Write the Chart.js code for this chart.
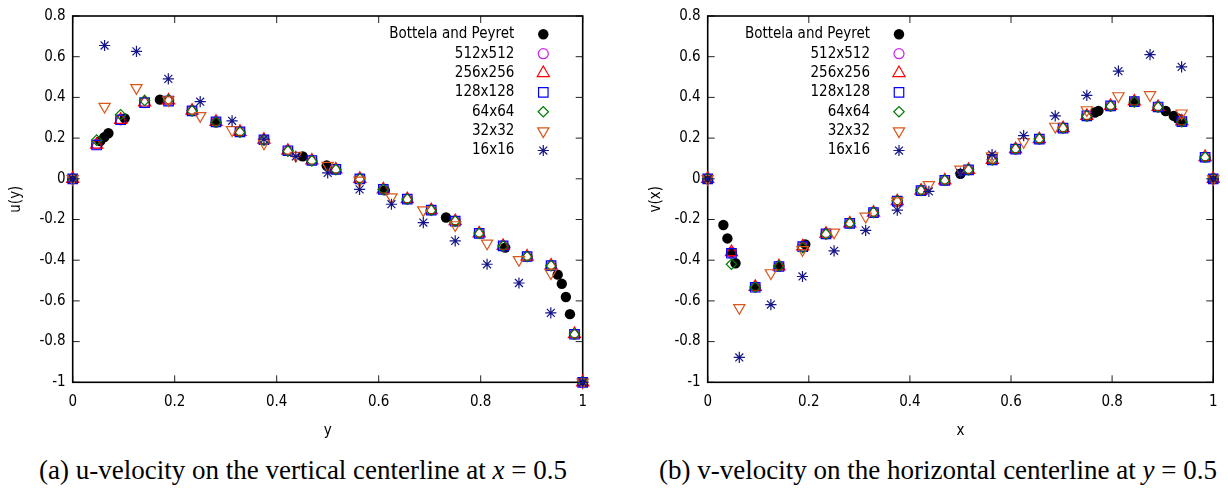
<!DOCTYPE html>
<html>
<head>
<meta charset="utf-8">
<script src="https://cdn.jsdelivr.net/npm/chart.js@4.4.1/dist/chart.umd.min.js"></script>
<style>
  html, body { margin: 0; background: #fff; }
  #page { position: relative; width: 1228px; height: 489px; overflow: hidden; background: #fff; }
  .panel { position: absolute; top: 0; }
  .caption {
    position: absolute; top: 457px; white-space: nowrap; transform: translateX(-50%);
    font-family: "Liberation Serif", serif; font-size: 27px; line-height: 27px; color: #000;
  }
</style>
</head>
<body>
<div id="page">
  <canvas id="uChart" class="panel" style="left:0" width="600" height="440"></canvas>
  <canvas id="vChart" class="panel" style="left:614px" width="614" height="440"></canvas>
  <div class="caption" style="left:303px">(a) u-velocity on the vertical centerline at <i>x</i> = 0.5</div>
  <div class="caption" style="left:938px">(b) v-velocity on the horizontal centerline at <i>y</i> = 0.5</div>
</div>
<script>
// ---- data -------------------------------------------------------------------

const seriesNames = ["Bottela and Peyret", "512x512", "256x256", "128x128", "64x64", "32x32", "16x16"];

const axisTicks = [0, 0.2, 0.4, 0.6, 0.8, 1];
const axisTickLabels = ["0", "0.2", "0.4", "0.6", "0.8", "1"];
const velTicks = [-1, -0.8, -0.6, -0.4, -0.2, 0, 0.2, 0.4, 0.6, 0.8];
const velTickLabels = ["-1", "-0.8", "-0.6", "-0.4", "-0.2", "0", "0.2", "0.4", "0.6", "0.8"];

// sample positions shared by the fine grids and by the two coarse grids
const finePos = [0, 0.047, 0.094, 0.141, 0.188, 0.234, 0.281, 0.328, 0.375, 0.422, 0.469, 0.516,
  0.563, 0.609, 0.656, 0.703, 0.75, 0.797, 0.844, 0.891, 0.938, 0.984, 1];
const coarsePos = [0, 0.0625, 0.125, 0.1875, 0.25, 0.3125, 0.375, 0.4375, 0.5, 0.5625, 0.625,
  0.6875, 0.75, 0.8125, 0.875, 0.9375, 1];

// u(y) on x = 0.5
const refY = [0, 0.054, 0.062, 0.07, 0.102, 0.171, 0.281, 0.451, 0.498, 0.612, 0.732, 0.848,
  0.951, 0.959, 0.967, 0.975, 1];
const refU = [0, 0.185, 0.205, 0.224, 0.297, 0.389, 0.278, 0.11, 0.065, -0.057, -0.19, -0.338,
  -0.471, -0.516, -0.581, -0.665, -1];
const u512 = [0, 0.17, 0.29, 0.374, 0.384, 0.334, 0.279, 0.231, 0.191, 0.138, 0.09, 0.046, 0.0,
  -0.052, -0.1, -0.154, -0.208, -0.268, -0.33, -0.382, -0.427, -0.764, -1];
const u256 = [0, 0.168, 0.29, 0.375, 0.385, 0.335, 0.28, 0.231, 0.192, 0.138, 0.09, 0.046, 0.0,
  -0.052, -0.1, -0.154, -0.208, -0.268, -0.33, -0.382, -0.426, -0.763, -1];
const u128 = [0, 0.166, 0.29, 0.374, 0.382, 0.334, 0.28, 0.231, 0.192, 0.138, 0.09, 0.046, 0.0,
  -0.052, -0.1, -0.154, -0.208, -0.268, -0.33, -0.382, -0.427, -0.764, -1];
const u64 = [0, 0.19, 0.315, 0.385, 0.387, 0.334, 0.278, 0.229, 0.19, 0.136, 0.088, 0.045, 0.0,
  -0.052, -0.1, -0.154, -0.208, -0.268, -0.33, -0.382, -0.427, -0.764, -1];
const u32 = [0, 0.355, 0.447, 0.387, 0.309, 0.24, 0.175, 0.114, 0.065, -0.008, -0.09, -0.154,
  -0.227, -0.317, -0.398, -0.463, -1];
const u16 = [0, 0.655, 0.626, 0.491, 0.379, 0.285, 0.195, 0.11, 0.029, -0.052, -0.125, -0.215,
  -0.305, -0.42, -0.512, -0.659, -1];

// v(x) on y = 0.5
const refX = [0, 0.031, 0.039, 0.047, 0.055, 0.094, 0.141, 0.193, 0.5, 0.766, 0.773, 0.844,
  0.906, 0.922, 0.93, 0.938, 1];
const refV = [0, -0.227, -0.293, -0.366, -0.415, -0.53, -0.428, -0.322, 0.025, 0.326, 0.334,
  0.378, 0.333, 0.309, 0.296, 0.281, 0];
const v512 = [0, -0.362, -0.532, -0.43, -0.333, -0.271, -0.219, -0.166, -0.11, -0.058, -0.008,
  0.044, 0.093, 0.146, 0.195, 0.249, 0.309, 0.358, 0.379, 0.353, 0.281, 0.106, 0];
const v256 = [0, -0.36, -0.531, -0.43, -0.332, -0.27, -0.219, -0.166, -0.11, -0.058, -0.008,
  0.044, 0.093, 0.146, 0.195, 0.249, 0.309, 0.358, 0.38, 0.353, 0.282, 0.107, 0];
const v128 = [0, -0.366, -0.533, -0.431, -0.333, -0.271, -0.219, -0.166, -0.11, -0.058, -0.008,
  0.044, 0.093, 0.146, 0.195, 0.249, 0.309, 0.358, 0.379, 0.353, 0.281, 0.106, 0];
const v64 = [0, -0.42, -0.533, -0.428, -0.338, -0.272, -0.218, -0.165, -0.108, -0.056, -0.007,
  0.045, 0.094, 0.147, 0.196, 0.25, 0.308, 0.357, 0.378, 0.352, 0.28, 0.106, 0];
const v32 = [0, -0.634, -0.463, -0.349, -0.263, -0.185, -0.11, -0.03, 0.046, 0.111, 0.182,
  0.257, 0.338, 0.407, 0.412, 0.322, 0];
const v16 = [0, -0.878, -0.618, -0.48, -0.354, -0.253, -0.154, -0.062, 0.028, 0.119, 0.212,
  0.309, 0.41, 0.529, 0.61, 0.55, 0];

// ---- look -------------------------------------------------------------------

const FONT_FAMILY = "'DejaVu Sans Condensed', 'DejaVu Sans', sans-serif";
const font = { family: FONT_FAMILY, size: 15 };

const marks = [
  { style: "circle", r: 5.2, color: "#000000", fill: true },
  { style: "circle", r: 5, color: "#cc22ee" },
  { style: "triangle", r: 7, color: "#ff0000" },
  { style: "rect", r: 6.7, color: "#0000ff" },
  { style: "rectRot", r: 5.2, color: "#007a00" },
  { style: "triangle", r: 6.5, color: "#d9561c", rot: 180 },
  { style: "star", r: 5.6, color: "#161688" },
];

function makeDatasets(columns) {
  return columns.map(([xs, ys], i) => {
    const m = marks[i];
    return {
      label: seriesNames[i],
      data: xs.map((x, k) => ({ x, y: ys[k] })),
      showLine: false,
      clip: false,
      order: columns.length - i, // later series are drawn on top
      pointStyle: m.style,
      pointRotation: m.rot || 0,
      pointRadius: m.r,
      pointHoverRadius: m.r,
      pointBorderWidth: m.fill ? 0 : 1.2,
      pointBorderColor: m.color,
      pointBackgroundColor: m.fill ? m.color : "rgba(0,0,0,0)",
    };
  });
}

// border box with inward ticks on all four sides, gnuplot style
const frame = {
  id: "frame",
  beforeDatasetsDraw(chart) {
    const { ctx, chartArea: a, scales: { x, y } } = chart;
    const len = 7;
    ctx.save();
    ctx.strokeStyle = "#222";
    ctx.lineWidth = 1;
    ctx.beginPath();
    x.ticks.forEach((t) => {
      const px = x.getPixelForValue(t.value);
      ctx.moveTo(px, a.bottom); ctx.lineTo(px, a.bottom - len);
      ctx.moveTo(px, a.top); ctx.lineTo(px, a.top + len);
    });
    y.ticks.forEach((t) => {
      const py = y.getPixelForValue(t.value);
      ctx.moveTo(a.left, py); ctx.lineTo(a.left + len, py);
      ctx.moveTo(a.right, py); ctx.lineTo(a.right - len, py);
    });
    ctx.stroke();
    ctx.strokeStyle = "#000";
    ctx.lineWidth = 1.6;
    ctx.strokeRect(a.left, a.top, a.right - a.left, a.bottom - a.top);
    ctx.restore();
  },
};

// key inside the plot: right-aligned names with the marker after them
const pointKey = {
  id: "pointKey",
  afterDraw(chart, args, opts) {
    const { ctx, chartArea: a } = chart;
    const xText = a.left + opts.right;
    ctx.save();
    ctx.font = `15px ${FONT_FAMILY}`;
    ctx.textAlign = "right";
    ctx.textBaseline = "middle";
    chart.data.datasets.forEach((ds, i) => {
      const yRow = a.top + opts.top + i * opts.row;
      ctx.fillStyle = "#000";
      ctx.fillText(ds.label, xText, yRow);
      ctx.strokeStyle = ds.pointBorderColor;
      ctx.fillStyle = ds.pointBackgroundColor;
      ctx.lineWidth = ds.pointBorderWidth;
      Chart.helpers.drawPoint(ctx, {
        pointStyle: ds.pointStyle,
        rotation: ds.pointRotation,
        radius: ds.pointRadius,
        borderWidth: ds.pointBorderWidth,
      }, xText + opts.gap, yRow);
    });
    ctx.restore();
  },
};

function makeChart(id, columns, cfg) {
  return new Chart(document.getElementById(id), {
    type: "scatter",
    data: { datasets: makeDatasets(columns) },
    plugins: [frame, pointKey],
    options: {
      responsive: false,
      animation: false,
      events: [],
      layout: { padding: { left: 0, right: cfg.padRight, top: 12.7, bottom: 0 } },
      plugins: {
        legend: { display: false },
        tooltip: { enabled: false },
        pointKey: { right: cfg.keyRight, top: 18.3, row: 19.37, gap: 29 },
      },
      scales: {
        x: {
          type: "linear",
          min: 0,
          max: 1,
          grid: { display: false, drawTicks: false },
          border: { display: false },
          afterBuildTicks: (s) => { s.ticks = axisTicks.map((value) => ({ value })); },
          afterFit: (s) => { s.height = 57.7; },
          ticks: { padding: 10.5, color: "#000", font, callback: (v, i) => axisTickLabels[i] },
          title: { display: true, text: cfg.xTitle, color: "#000", font, padding: { top: 0, bottom: 0 } },
        },
        y: {
          type: "linear",
          min: -1,
          max: 0.8,
          grid: { display: false, drawTicks: false },
          border: { display: false },
          afterBuildTicks: (s) => { s.ticks = velTicks.map((value) => ({ value })); },
          afterFit: (s) => { s.width = cfg.axisWidth; },
          ticks: { padding: 7, color: "#000", font, callback: (v, i) => velTickLabels[i] },
          title: { display: true, text: cfg.yTitle, color: "#000", font, padding: { top: cfg.titlePad, bottom: 0 } },
        },
      },
    },
  });
}

makeChart("uChart", [
  [refY, refU], [finePos, u512], [finePos, u256], [finePos, u128], [finePos, u64],
  [coarsePos, u32], [coarsePos, u16],
], { xTitle: "y", yTitle: "u(y)", axisWidth: 72.7, padRight: 17.3, titlePad: 7, keyRight: 441.6 });

makeChart("vChart", [
  [refX, refV], [finePos, v512], [finePos, v256], [finePos, v128], [finePos, v64],
  [coarsePos, v32], [coarsePos, v16],
], { xTitle: "x", yTitle: "v(x)", axisWidth: 93.7, padRight: 12.7, titlePad: 33, keyRight: 162.3 });
</script>
</body>
</html>
